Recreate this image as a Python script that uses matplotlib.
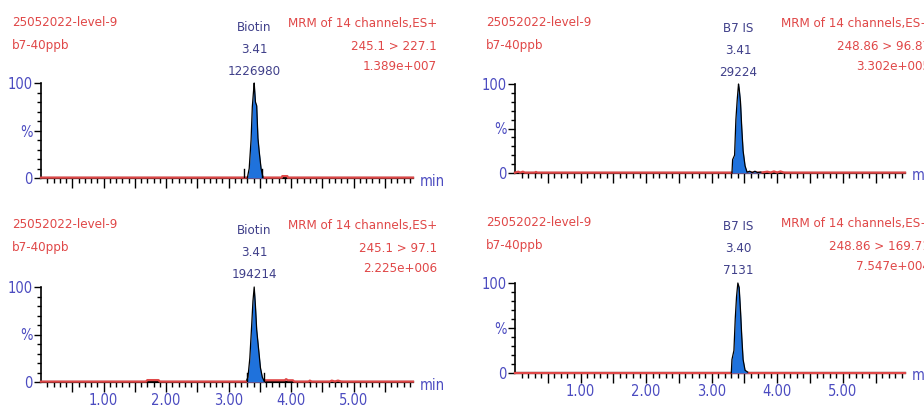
import matplotlib
matplotlib.use("Agg")
import matplotlib.pyplot as plt
import matplotlib.font_manager as fm
from matplotlib.ticker import FixedLocator, FixedFormatter

# pick a narrow face if one is installed, else Arial-like Liberation Sans
fonts = fm.fontManager.ttflist
STRETCH = "normal"
if any(f.name == "Liberation Sans Narrow" for f in fonts):
    FAMILY = "Liberation Sans Narrow"
elif any(f.name == "DejaVu Sans" and f.stretch == "condensed" for f in fonts):
    FAMILY = "DejaVu Sans"
    STRETCH = "condensed"
else:
    FAMILY = "Liberation Sans"
plt.rcParams['font.family'] = [FAMILY, 'DejaVu Sans']
plt.rcParams['font.stretch'] = STRETCH

W, H = 924, 405

sample = "25052022-level-9"
sample_id = "b7-40ppb"
header = "MRM of 14 channels,ES+"

# peak labels (name, rt, area)
tl_label = ["Biotin", "3.41", "1226980"]
tr_label = ["B7 IS", "3.41", "29224"]
bl_label = ["Biotin", "3.41", "194214"]
br_label = ["B7 IS", "3.40", "7131"]

tl_trans = ["245.1 > 227.1", "1.389e+007"]
tr_trans = ["248.86 > 96.87", "3.302e+005"]
bl_trans = ["245.1 > 97.1", "2.225e+006"]
br_trans = ["248.86 > 169.71", "7.547e+004"]

# traces (time in min, intensity in %)
tl_peak_t = [3.30, 3.33, 3.36, 3.38, 3.40, 3.41, 3.43, 3.45, 3.47, 3.49, 3.52, 3.55]
tl_peak_i = [0, 10, 40, 75, 92, 100, 80, 76, 42, 28, 10, 1]
tl_base_t = [0.0, 3.30, 3.55, 3.85, 3.86, 3.94, 3.95, 5.95]
tl_base_i = [0.4, 0.4, 0.4, 0.4, 2.0, 2.0, 0.4, 0.4]
tl_marks = [3.25, 3.54]

tr_peak_t = [3.31, 3.32, 3.35, 3.37, 3.39, 3.41, 3.42, 3.44, 3.46, 3.48, 3.51, 3.54,
             3.58, 3.62, 3.66, 3.70, 3.75]
tr_peak_i = [0, 15, 20, 60, 82, 100, 95, 80, 50, 25, 8, 1,
             2, 0.5, 2, 0.5, 1]
tr_base_t = [0.0, 0.05, 0.08, 0.12, 0.15, 0.30, 0.32, 0.34, 3.31, 3.75, 3.85, 3.9,
             3.95, 4.0, 4.05, 4.1, 4.15, 5.95]
tr_base_i = [0.4, 1.5, 0.4, 1.5, 0.4, 0.4, 1.2, 0.4, 0.4, 0.4, 1.5, 0.5,
             1.8, 0.5, 1.8, 0.5, 0.4, 0.4]
tr_marks = []

bl_peak_t = [3.29, 3.31, 3.34, 3.37, 3.39, 3.41, 3.43, 3.45, 3.48, 3.51, 3.54, 3.57]
bl_peak_i = [2, 5, 25, 60, 85, 100, 80, 55, 35, 15, 5, 1]
bl_base_t = [0.0, 1.68, 1.70, 1.88, 1.90, 3.29, 3.57, 3.58, 3.90, 3.92, 3.95, 4.03,
             4.05, 4.28, 4.30, 4.33, 4.62, 4.65, 4.70, 4.75, 4.80, 4.85, 5.95]
bl_base_i = [0.4, 0.4, 2.0, 2.0, 0.4, 0.4, 0.4, 1.8, 1.8, 3.0, 1.8, 1.8,
             0.4, 0.4, 1.5, 0.4, 0.4, 1.5, 0.5, 1.5, 0.5, 0.4, 0.4]
bl_marks = [3.29, 3.57]

br_peak_t = [3.30, 3.31, 3.34, 3.36, 3.38, 3.40, 3.42, 3.44, 3.46, 3.48, 3.51, 3.55]
br_peak_i = [0, 15, 25, 60, 85, 100, 95, 70, 40, 15, 3, 1]
br_base_t = [0.0, 3.30, 3.55, 5.95]
br_base_i = [0.4, 0.4, 0.4, 0.4]
br_marks = []

x_major = [0.5, 1.0, 1.5, 2.0, 2.5, 3.0, 3.5, 4.0, 4.5, 5.0, 5.5]
x_major_lbl = ["", "1.00", "", "2.00", "", "3.00", "", "4.00", "", "5.00", ""]
x_minor = [i / 10 for i in range(1, 60) if i % 5]

RED = "#e04848"
BLUE = "#4b4bc0"
DBLUE = "#40408a"
FILL = "#1f72dc"
FS = 9.5 if FAMILY != "Liberation Sans" else 9
FS_TICK = 10.5 if FAMILY != "Liberation Sans" else 9.5


def fx(x):
    return x / W


def fy(y):
    return 1 - y / H


fig = plt.figure(figsize=(W / 100, H / 100), dpi=100)


def panel(x0, x1, y0, y100, peak_t, peak_i, base_t, base_i, marks, lbl, trans,
          txt_left, txt_right, txt_y, show_x, min_y):
    ax = fig.add_axes([fx(x0), fy(y0), fx(x1 - x0), (y0 - y100) / H])
    ax.set_xlim(0, 5.95)
    ax.set_ylim(0, 100)
    for s in ("top", "right"):
        ax.spines[s].set_visible(False)
    ax.spines["left"].set_linewidth(1.2)
    ax.spines["bottom"].set_linewidth(1.6)
    ax.plot(base_t, base_i, color=RED, lw=1.6, clip_on=False, zorder=3)
    ax.fill_between(peak_t, 0, peak_i, color=FILL, lw=0, zorder=4)
    ax.plot(peak_t, peak_i, color="black", lw=0.9, clip_on=False, zorder=5)
    for m in marks:
        ax.plot([m, m], [0, 9], color="black", lw=1.0, zorder=5)
    ax.set_yticks([0, 50, 100])
    ax.set_yticklabels(["0", "%", "100"], color=BLUE, fontsize=FS_TICK)
    ax.yaxis.set_minor_locator(FixedLocator([10, 20, 30, 40, 60, 70, 80, 90]))
    ax.tick_params(axis="y", which="major", length=5, width=1.0, pad=1)
    ax.tick_params(axis="y", which="minor", length=3, width=1.0)
    ax.xaxis.set_major_locator(FixedLocator(x_major))
    ax.xaxis.set_major_formatter(FixedFormatter(x_major_lbl if show_x else [""] * len(x_major)))
    ax.xaxis.set_minor_locator(FixedLocator(x_minor))
    ax.tick_params(axis="x", which="major", length=7, width=1.0, pad=1,
                   labelsize=FS_TICK, labelcolor=BLUE)
    ax.tick_params(axis="x", which="minor", length=3.5, width=1.0)
    # peak annotation
    rt = float(lbl[1])
    for k, off in enumerate([56, 34, 12]):
        ax.annotate(lbl[k], xy=(rt, 100), xytext=(0, off), textcoords="offset pixels",
                    ha="center", va="center", color=DBLUE, fontsize=FS,
                    annotation_clip=False)
    # header texts
    fig.text(fx(txt_left), fy(txt_y), sample, color=RED, fontsize=FS, va="center")
    fig.text(fx(txt_left), fy(txt_y + 23), sample_id, color=RED, fontsize=FS, va="center")
    fig.text(fx(txt_right), fy(txt_y), header, color=RED, fontsize=FS, va="center", ha="right")
    fig.text(fx(txt_right), fy(txt_y + 24), trans[0], color=RED, fontsize=FS, va="center", ha="right")
    fig.text(fx(txt_right), fy(txt_y + 44), trans[1], color=RED, fontsize=FS, va="center", ha="right")
    fig.text(fx(x1 + 7), fy(min_y), "min", color=BLUE, fontsize=FS_TICK, va="center")
    return ax


panel(41, 413, 178, 83, tl_peak_t, tl_peak_i, tl_base_t, tl_base_i, tl_marks,
      tl_label, tl_trans, 12, 437, 23, False, 182)
panel(515, 905, 173, 84, tr_peak_t, tr_peak_i, tr_base_t, tr_base_i, tr_marks,
      tr_label, tr_trans, 486, 930, 23, False, 176)
panel(41, 413, 382, 287, bl_peak_t, bl_peak_i, bl_base_t, bl_base_i, bl_marks,
      bl_label, bl_trans, 12, 437, 225, True, 386)
panel(515, 905, 373, 283, br_peak_t, br_peak_i, br_base_t, br_base_i, br_marks,
      br_label, br_trans, 486, 930, 223, True, 376)

fig.savefig("out.png", dpi=100, facecolor="white")
